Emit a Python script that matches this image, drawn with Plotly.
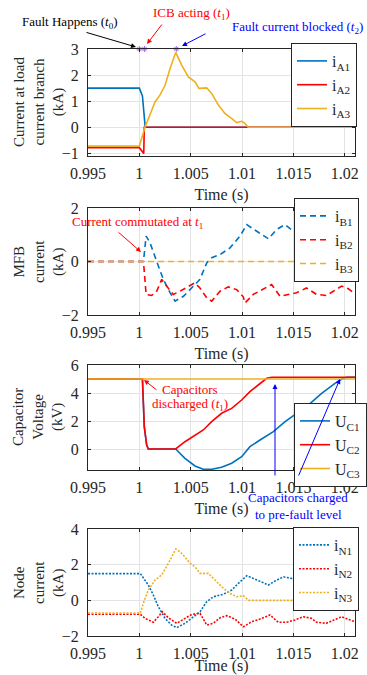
import plotly.graph_objects as go

W, H = 367, 675
FONT = "'Liberation Serif', 'Times New Roman', Times, 'DejaVu Serif', serif"
BLUE, RED, ORANGE = "#0072BD", "#FF0000", "#EDB120"

# ---------------- data ----------------
x_ticks = [0.995, 1.0, 1.005, 1.01, 1.015, 1.02]
x_tick_text = ["0.995", "1", "1.005", "1.01", "1.015", "1.02"]

# panel 1 : load current branch (kA)
t_A1 = [0.995, 1.0, 1.0003, 1.00057, 1.021]
i_A1 = [1.5, 1.5, 1.2, 0.0, 0.0]
t_A2 = [0.995, 1.0, 1.00043, 1.00048, 1.021]
i_A2 = [-0.78, -0.78, -1.0, 0.0, 0.0]
t_A3 = [0.995, 1.0, 1.00055, 1.00153, 1.0020, 1.0025, 1.0030, 1.00354, 1.00412,
        1.00477, 1.00542, 1.0058, 1.00656, 1.00704, 1.0077, 1.00833, 1.009,
        1.00948, 1.00997, 1.0103, 1.0106, 1.021]
i_A3 = [-0.72, -0.72, 0.0, 0.97, 1.23, 1.6, 2.26, 2.87, 2.38, 1.93, 1.74, 1.49,
        1.51, 1.3, 0.85, 0.53, 0.33, 0.18, 0.23, 0.14, 0.0, 0.0]
event_t = [1.0, 1.0005, 1.0036]
event_y = [3.0, 3.0, 3.0]
event_colors = ["black", RED, "blue"]

# panel 2 : MFB current (kA)
t_B1 = [0.995, 1.0004, 1.00066, 1.00104, 1.00169, 1.00234, 1.003, 1.00348, 1.0043,
        1.0051, 1.0059, 1.00656, 1.00705, 1.00786, 1.00883, 1.0098, 1.01046,
        1.01143, 1.01256, 1.01338, 1.01419, 1.015, 1.01613, 1.01694, 1.0174,
        1.018, 1.019, 1.02, 1.021]
i_B1 = [0.0, 0.0, 0.95, 0.7, 0.0, -0.67, -1.17, -1.48, -1.3, -0.99, -0.67, -0.05,
        0.14, 0.26, 0.51, 0.95, 1.38, 1.13, 0.85, 1.2, 1.38, 1.13, 0.92, 1.13,
        1.32, 1.4, 1.2, 1.0, 1.1]
t_B2 = [0.995, 1.0004, 1.00066, 1.0012, 1.00169, 1.00218, 1.00266, 1.0033, 1.00396,
        1.00477, 1.0054, 1.0059, 1.00656, 1.00705, 1.00786, 1.00866, 1.00948,
        1.01012, 1.01029, 1.0111, 1.01191, 1.01288, 1.0137, 1.0145, 1.0153,
        1.01628, 1.01726, 1.01823, 1.01889, 1.0197, 1.02035, 1.021]
i_B2 = [0.0, 0.0, -1.23, -1.27, -1.11, -0.67, -0.92, -1.23, -1.11, -0.92, -0.8,
        -0.99, -1.36, -1.48, -1.11, -0.95, -1.05, -1.32, -1.55, -1.23, -1.07,
        -0.86, -1.3, -1.23, -1.17, -0.99, -1.23, -1.27, -1.11, -0.92, -1.02, -1.2]
t_B3 = [0.995, 1.021]
i_B3 = [0.0, 0.0]

# panel 3 : capacitor voltage (kV)
t_C1 = [0.995, 1.0003, 1.00048, 1.00071, 1.00087, 1.00354, 1.00444, 1.00542,
        1.00623, 1.00704, 1.00801, 1.00899, 1.00996, 1.01077, 1.01175, 1.01305,
        1.01419, 1.01548, 1.01645, 1.01775, 1.01905, 1.01986, 1.0202, 1.021]
U_C1 = [5.0, 5.0, 1.6, 0.3, 0.0, 0.0, -0.67, -1.21, -1.45, -1.45, -1.31, -1.02,
        -0.55, 0.17, 0.64, 1.24, 1.95, 2.66, 3.14, 3.98, 4.69, 5.05, 5.12, 5.12]
t_C2 = [0.995, 1.0003, 1.00048, 1.00071, 1.00087, 1.00354, 1.00444, 1.00542,
        1.00623, 1.00704, 1.00801, 1.00899, 1.00996, 1.01077, 1.01175, 1.0124,
        1.0129, 1.021]
U_C2 = [5.0, 5.0, 1.6, 0.3, 0.0, 0.0, 0.52, 1.0, 1.36, 1.95, 2.55, 2.9, 3.5, 4.1,
        4.7, 5.05, 5.12, 5.12]
t_C3 = [0.995, 1.021]
U_C3 = [5.0, 5.0]

# panel 4 : node current (kA)
t_N1 = [0.995, 1.0001, 1.00087, 1.00136, 1.00185, 1.0025, 1.00315, 1.00364, 1.00445,
        1.00526, 1.00591, 1.00656, 1.0072, 1.00818, 1.009, 1.00964, 1.01046,
        1.0111, 1.01175, 1.01256, 1.01321, 1.01402, 1.01483, 1.01548, 1.01613,
        1.01694, 1.01726, 1.018, 1.019, 1.02, 1.021]
i_N1 = [1.5, 1.5, 0.86, 0.3, -0.36, -1.01, -1.39, -1.53, -1.29, -0.92, -0.64,
        -0.08, 0.2, 0.34, 0.58, 0.95, 1.38, 1.23, 1.08, 0.86, 1.08, 1.32, 1.23,
        1.04, 0.95, 1.14, 1.32, 1.4, 1.2, 1.0, 1.1]
t_N2 = [0.995, 1.0001, 1.00055, 1.00136, 1.00185, 1.00224, 1.00283, 1.00364,
        1.00445, 1.0051, 1.00591, 1.00656, 1.0072, 1.00786, 1.0085, 1.00932,
        1.01013, 1.01094, 1.01175, 1.01272, 1.01353, 1.01434, 1.01515, 1.01596,
        1.01677, 1.01726, 1.0182, 1.0197, 1.021]
i_N2 = [-0.78, -0.78, -1.01, -1.23, -0.92, -0.64, -0.98, -1.29, -1.01, -0.79,
        -0.73, -1.39, -1.29, -0.98, -0.86, -1.05, -1.48, -1.2, -1.05, -0.82,
        -1.23, -1.23, -1.1, -0.92, -1.01, -1.23, -1.29, -0.92, -1.2]
t_N3 = [0.995, 1.0001, 1.00039, 1.00087, 1.00153, 1.00218, 1.00283, 1.00322,
        1.00355, 1.00413, 1.00494, 1.00542, 1.00591, 1.00672, 1.00737, 1.00802,
        1.00883, 1.00948, 1.01013, 1.01062, 1.021]
i_N3 = [-0.72, -0.72, -0.17, 0.58, 1.14, 1.42, 2.08, 2.54, 2.88, 2.64, 2.08, 1.88,
        1.51, 1.51, 1.14, 0.76, 0.39, 0.2, 0.26, 0.0, 0.0]

# ---------------- figure ----------------
def px(x):
    return x / W

def py(y):
    return 1 - y / H

fig = go.Figure()

def add_line(t, v, name, color, dash, k, legend):
    xa = "x" if k == 1 else f"x{k}"
    ya = "y" if k == 1 else f"y{k}"
    fig.add_trace(go.Scatter(x=t, y=v, name=name, mode="lines", xaxis=xa, yaxis=ya,
                             line=dict(color=color, width=1.6, dash=dash),
                             legend=legend))

DASH = "6px,4px"
DOT = "2px,1.5px"
add_line(t_A1, i_A1, "i<sub>A1</sub>", BLUE, "solid", 1, "legend")
add_line(t_A2, i_A2, "i<sub>A2</sub>", RED, "solid", 1, "legend")
add_line(t_A3, i_A3, "i<sub>A3</sub>", ORANGE, "solid", 1, "legend")
fig.add_trace(go.Scatter(x=event_t, y=event_y, mode="markers", showlegend=False,
                         xaxis="x", yaxis="y", cliponaxis=False,
                         marker=dict(symbol="asterisk-open", size=5,
                                     line=dict(width=1, color=event_colors))))
add_line(t_B1, i_B1, "i<sub>B1</sub>", BLUE, DASH, 2, "legend2")
add_line(t_B2, i_B2, "i<sub>B2</sub>", RED, DASH, 2, "legend2")
add_line(t_B3, i_B3, "i<sub>B3</sub>", ORANGE, DASH, 2, "legend2")
add_line(t_C1, U_C1, "U<sub>C1</sub>", BLUE, "solid", 3, "legend3")
add_line(t_C2, U_C2, "U<sub>C2</sub>", RED, "solid", 3, "legend3")
add_line(t_C3, U_C3, "U<sub>C3</sub>", ORANGE, "solid", 3, "legend3")
add_line(t_N1, i_N1, "i<sub>N1</sub>", BLUE, DOT, 4, "legend4")
add_line(t_N2, i_N2, "i<sub>N2</sub>", RED, DOT, 4, "legend4")
add_line(t_N3, i_N3, "i<sub>N3</sub>", ORANGE, DOT, 4, "legend4")

# panel pixel boxes (top, bottom)
panels = [(49, 156), (208, 315), (365, 470), (529, 636)]
yranges = [[-1.1, 3], [-2, 2], [-1.5, 6], [-2, 4]]
yticks = [[-1, 0, 1, 2, 3], [-2, 0, 2], [0, 2, 4, 6], [-2, 0, 2, 4]]
ytitles = ["Current at load<br>current branch<br>(kA)",
           "MFB<br>current<br>(kA)",
           "Capacitor<br>Voltage<br>(kV)",
           "Node<br>current<br>(kA)"]

axis_common = dict(showline=True, linecolor="#262626", linewidth=1, mirror="ticks",
                   ticks="inside", ticklen=3, tickcolor="#262626",
                   showgrid=True, gridcolor="#E3E3E3", gridwidth=1,
                   zeroline=False, tickfont=dict(size=16, color="#262626", family=FONT),
                   automargin=False)

ann = []

for k in range(1, 5):
    top, bot = panels[k - 1]
    xs = "xaxis" if k == 1 else f"xaxis{k}"
    ys = "yaxis" if k == 1 else f"yaxis{k}"
    anchor_y = "y" if k == 1 else f"y{k}"
    anchor_x = "x" if k == 1 else f"x{k}"
    fig.layout[xs] = dict(axis_common, domain=[px(88), px(355)], anchor=anchor_y,
                          range=[0.995, 1.021], tickvals=x_ticks, ticktext=x_tick_text,
                          ticklabelstandoff=3,
                          title=dict(text="Time (s)",
                                     font=dict(size=16, color="#262626", family=FONT),
                                     standoff=7))
    fig.layout[ys] = dict(axis_common, domain=[py(bot), py(top)], anchor=anchor_x,
                          range=yranges[k - 1], tickvals=yticks[k - 1],
                          ticklabelstandoff=5)
    # multi-line y-axis title, placed like the reference
    ann.append(dict(xref="paper", yref="paper", x=px(38.5), y=py((top + bot) / 2),
                    text=ytitles[k - 1], textangle=-90, showarrow=False,
                    xanchor="center", yanchor="middle",
                    font=dict(size=15, color="#262626", family=FONT)))

leg_common = dict(bgcolor="white", bordercolor="#262626", borderwidth=1,
                  font=dict(size=16, color="#262626", family=FONT),
                  itemwidth=30, tracegroupgap=0, xanchor="right", yanchor="top")
fig.update_layout(
    legend=dict(leg_common, x=px(357), y=py(43)),
    legend2=dict(leg_common, x=px(359), y=py(198)),
    legend3=dict(leg_common, x=1.0, y=py(403)),
    legend4=dict(leg_common, x=px(359), y=py(527)),
)

def text_ann(x, y, text, color, size=13):
    ann.append(dict(xref="paper", yref="paper", x=px(x), y=py(y), text=text,
                    showarrow=False, xanchor="center", yanchor="middle",
                    font=dict(size=size, color=color, family=FONT)))

def arrow_ann(tail, tip, color):
    ann.append(dict(xref="paper", yref="paper", x=px(tip[0]), y=py(tip[1]), text="",
                    showarrow=True, axref="pixel", ayref="pixel",
                    ax=tail[0] - tip[0], ay=tail[1] - tip[1],
                    arrowhead=2, arrowsize=1, arrowwidth=1, arrowcolor=color,
                    standoff=0, startstandoff=0))

text_ann(70, 23, "Fault Happens (<i>t</i><sub>0</sub>)", "black")
arrow_ann((85, 32), (136, 47), "black")
text_ann(192, 14, "ICB acting (<i>t</i><sub>1</sub>)", RED)
arrow_ann((163, 23), (147, 44), RED)
text_ann(297, 28, "Fault current blocked (<i>t</i><sub>2</sub>)", "blue")
arrow_ann((207, 33), (182, 46), "blue")
text_ann(137, 222, "Current commutated at <i>t</i><sub>1</sub>", RED)
arrow_ann((117, 231), (141, 252), RED)
text_ann(190, 389, "Capacitors", RED)
text_ann(190, 404, "discharged (<i>t</i><sub>1</sub>)", RED)
arrow_ann((158, 391), (144, 380), RED)
arrow_ann((275, 477), (275, 384), "blue")
arrow_ann((298, 477), (340, 379), "blue")
text_ann(298, 497, "Capacitors charged", "blue")
text_ann(298, 514, "to pre-fault level", "blue")

fig.update_layout(
    width=W, height=H, margin=dict(l=0, r=0, t=0, b=0),
    paper_bgcolor="white", plot_bgcolor="white",
    font=dict(family=FONT, size=16, color="#262626"),
    annotations=ann,
)

fig.write_html("out.html", include_plotlyjs=True, config={"displayModeBar": False})
